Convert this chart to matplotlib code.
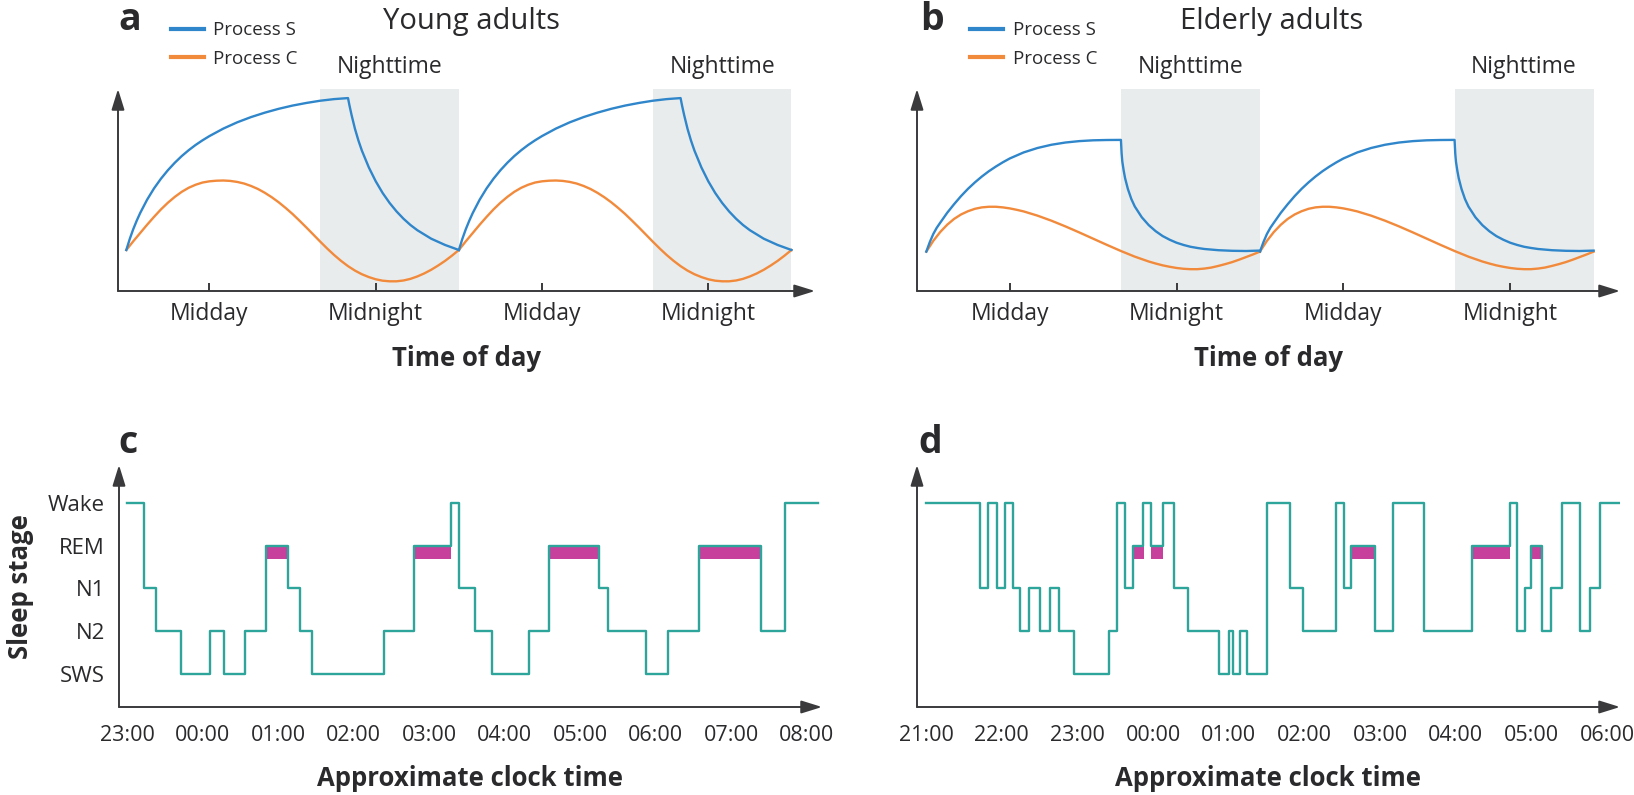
import matplotlib
matplotlib.use("Agg")
import matplotlib.pyplot as plt
import numpy as np

plt.rcParams['font.family'] = ['Open Sans', 'DejaVu Sans']

# ---------------- data ----------------
# Two-process model: hours of day (6 = 06:00 on day 1); values on a 0-100 scale.
# The picture shows two identical days; day_offsets places the second copy.
day_offsets = [0, 24]
nights = [(20, 30), (44, 54)]

young_S_t = [6, 6.25, 6.5, 6.75, 7, 7.5, 8, 8.5, 9, 9.5, 10, 10.5, 11, 11.5, 12, 13, 14, 15, 16, 17, 18, 19, 20, 21, 22,
             22.1, 22.25, 22.5, 22.75, 23, 23.5, 24, 24.5, 25, 25.5, 26, 26.5, 27, 28, 29, 30]
young_S_v = [20.3, 25.8, 30.6, 34.8, 38.6, 45.2, 50.8, 55.6, 59.8, 63.5, 66.8, 69.7, 72.3, 74.6, 76.7, 80.4, 83.5, 86.1,
             88.3, 90.2, 91.8, 93.1, 94.2, 95.0, 95.5,
             92.0, 87.3, 80.3, 74.5, 69.5, 61.2, 54.3, 48.5, 43.6, 39.4, 35.8, 32.7, 30.1, 25.9, 22.8, 20.3]

young_C_t = [6, 6.5, 7, 7.5, 8, 8.5, 9, 9.5, 10, 10.5, 11, 11.5, 12, 12.5, 13, 13.5, 14, 14.5, 15, 15.5, 16, 16.5,
             17, 17.5, 18, 18.5, 19, 19.5, 20, 20.5, 21, 21.5, 22, 22.5, 23, 23.5, 24, 24.5, 25, 25.5, 26, 26.5,
             27, 27.5, 28, 28.5, 29, 29.5, 30]
young_C_v = [20.3, 24.6, 28.7, 32.8, 36.7, 40.4, 43.7, 46.6, 49.1, 51.1, 52.6, 53.7, 54.3, 54.6, 54.7, 54.5, 54.0, 53.2,
             52.0, 50.5, 48.6, 46.4, 43.9, 41.1, 38.1, 34.8, 31.4, 27.9, 24.4, 21.0, 17.8, 14.9, 12.3, 10.1, 8.3, 6.9,
             5.8, 5.1, 4.8, 4.8, 5.2, 6.0, 7.2, 8.7, 10.5, 12.6, 14.9, 17.5, 20.3]

old_S_t = [6, 6.25, 6.5, 6.75, 7, 7.5, 8, 8.5, 9, 9.5, 10, 10.5, 11, 11.5, 12, 13, 14, 15, 16, 17, 18, 19, 20,
           20.05, 20.1, 20.2, 20.3, 20.5, 20.75, 21, 21.5, 22, 22.5, 23, 23.5, 24, 24.5, 25, 25.5, 26, 27, 28, 29, 30]
old_S_v = [19.5, 24.2, 28.2, 31.3, 33.8, 38.7, 43.0, 47.0, 50.6, 53.8, 56.7, 59.3, 61.6, 63.7, 65.6, 68.6, 70.8, 72.4,
           73.5, 74.2, 74.6, 74.75, 74.8,
           68.0, 64.0, 59.5, 55.8, 50.5, 45.5, 41.8, 36.5, 32.6, 29.6, 27.2, 25.4, 23.9, 22.8, 21.9, 21.3, 20.8, 20.2,
           19.9, 19.8, 20.0]

old_C_t = [6, 6.5, 7, 7.5, 8, 8.5, 9, 9.5, 10, 10.5, 11, 11.5, 12, 12.5, 13, 14, 15, 16, 17, 18, 19, 20, 21, 22,
           22.5, 23, 23.5, 24, 24.5, 25, 25.5, 26, 26.5, 27, 27.5, 28, 28.5, 29, 29.5, 30]
old_C_v = [19.5, 24.8, 29.2, 32.8, 35.7, 37.9, 39.5, 40.7, 41.4, 41.7, 41.7, 41.4, 40.9, 40.2, 39.4, 37.3, 34.8, 32.0,
           29.0, 25.9, 22.8, 19.8, 17.0, 14.6, 13.6, 12.7, 12.0, 11.4, 11.0, 10.8, 10.8, 11.1, 11.6, 12.4, 13.3, 14.3,
           15.5, 16.8, 18.1, 19.5]

rhythm_ticks = [12, 24, 36, 48]
rhythm_labels = ['Midday', 'Midnight', 'Midday', 'Midnight']

# Hypnograms
stage_names = ['SWS', 'N2', 'N1', 'REM', 'Wake']
stage_level = {s: i for i, s in enumerate(stage_names)}

# panel c: hours after 23:00
c_times = [0.00, 0.225, 0.39, 0.71, 1.10, 1.28, 1.565, 1.845, 2.13, 2.29, 2.455, 3.40, 3.80, 4.29,
           4.40, 4.61, 4.835, 5.33, 5.59, 6.245, 6.365, 6.88, 7.17, 7.57, 8.40, 8.715, 9.15]
c_stages = ['Wake', 'N1', 'N2', 'SWS', 'N2', 'SWS', 'N2', 'REM', 'N1', 'N2', 'SWS', 'N2', 'REM', 'Wake',
            'N1', 'N2', 'SWS', 'N2', 'REM', 'N1', 'N2', 'SWS', 'N2', 'REM', 'N2', 'Wake', 'Wake']
c_rem = [(1.845, 2.13), (3.80, 4.29), (5.59, 6.245), (7.57, 8.40)]
c_ticklabels = ['23:00', '00:00', '01:00', '02:00', '03:00', '04:00', '05:00', '06:00', '07:00', '08:00']

# panel d: hours after 21:00
d_times = [0.00, 0.714, 0.819, 0.937, 1.049, 1.155, 1.248, 1.366, 1.508, 1.633, 1.757, 1.955, 2.415, 2.52,
           2.63, 2.73, 2.86, 2.97, 3.13, 3.28, 3.465, 3.865, 4.00, 4.05, 4.15, 4.24, 4.51, 4.81, 4.975,
           5.42, 5.52, 5.62, 5.935, 6.165, 6.58, 7.21, 7.715, 7.81, 7.91, 7.99, 8.135, 8.26, 8.405,
           8.645, 8.775, 8.90, 9.17]
d_stages = ['Wake', 'N1', 'Wake', 'N1', 'Wake', 'N1', 'N2', 'N1', 'N2', 'N1', 'N2', 'SWS', 'N2', 'Wake',
            'N1', 'REM', 'Wake', 'REM', 'Wake', 'N1', 'N2', 'SWS', 'N2', 'SWS', 'N2', 'SWS', 'Wake', 'N1', 'N2',
            'Wake', 'N1', 'REM', 'N2', 'Wake', 'N2', 'REM', 'Wake', 'N2', 'N1', 'REM', 'N2', 'N1', 'Wake',
            'N2', 'N1', 'Wake', 'Wake']
d_rem = [(2.74, 2.88), (2.97, 3.13), (5.63, 5.935), (7.22, 7.715), (8.01, 8.135)]
d_ticklabels = ['21:00', '22:00', '23:00', '00:00', '01:00', '02:00', '03:00', '04:00', '05:00', '06:00']

# ---------------- style ----------------
TXT = '#2a2a2d'
AXC = '#3a3a3d'
BLUE = '#2f86ca'
ORANGE = '#f28a3c'
SHADE = '#e9ecec'
TEAL = '#2ea59a'
PINK = '#c6409c'

W, H = 1634, 795
fig = plt.figure(figsize=(W / 100, H / 100), dpi=100)


def box(l, r, t, b):
    return [l / W, 1 - b / H, (r - l) / W, (b - t) / H]


def arrows(ax):
    for s in ax.spines.values():
        s.set_visible(False)
    kw = dict(arrowstyle='-|>,head_width=0.28,head_length=0.9', lw=1.4, color=AXC,
              shrinkA=0, shrinkB=0, mutation_scale=14)
    ax.annotate('', xy=(1, 0), xytext=(0, 0), xycoords='axes fraction', arrowprops=kw,
                annotation_clip=False)
    ax.annotate('', xy=(0, 1), xytext=(0, 0), xycoords='axes fraction', arrowprops=kw,
                annotation_clip=False)


ax_a = fig.add_axes(box(118, 815, 89, 291))
ax_b = fig.add_axes(box(917, 1620, 89, 291))
ax_c = fig.add_axes(box(119, 822, 465, 707))
ax_d = fig.add_axes(box(917, 1620, 465, 707))

# ---------------- panels a / b ----------------
for ax, St, Sv, Ct, Cv, xl in [(ax_a, young_S_t, young_S_v, young_C_t, young_C_v, (5.4, 55.7)),
                               (ax_b, old_S_t, old_S_v, old_C_t, old_C_v, (5.33, 55.9))]:
    for n0, n1 in nights:
        ax.axvspan(n0, n1, ymin=0, ymax=1, color=SHADE, lw=0, zorder=0)
        ax.text((n0 + n1) / 2, 1.11, 'Nighttime', transform=ax.get_xaxis_transform(),
                ha='center', va='center', fontsize=16.5, color=TXT)
    for k, off in enumerate(day_offsets):
        ax.plot(np.array(Ct) + off, Cv, color=ORANGE, lw=1.7, zorder=3,
                label='Process C' if k == 0 else None, solid_joinstyle='round')
        ax.plot(np.array(St) + off, Sv, color=BLUE, lw=1.7, zorder=4,
                label='Process S' if k == 0 else None, solid_joinstyle='round')
    ax.set_xlim(*xl)
    ax.set_ylim(0, 100)
    ax.set_xticks(rhythm_ticks)
    ax.set_xticklabels(rhythm_labels)
    ax.set_yticks([])
    ax.tick_params(axis='x', direction='in', length=6, width=1.4, color=AXC, pad=8,
                   labelsize=16.5, labelcolor=TXT)
    arrows(ax)
    h, l = ax.get_legend_handles_labels()
    order = [1, 0]
    ax.legend([h[i] for i in order], [l[i] for i in order], loc='upper left',
              bbox_to_anchor=(0.076, 1.335), frameon=False, fontsize=13.5,
              handlelength=1.75, handletextpad=0.5, labelspacing=0.55,
              borderpad=0, borderaxespad=0, labelcolor=TXT)
    for line in ax.get_legend().get_lines():
        line.set_linewidth(3)

# ---------------- panels c / d ----------------
for ax, ts, ss, rem, labels, xl in [(ax_c, c_times, c_stages, c_rem, c_ticklabels, (-0.106, 9.205)),
                                    (ax_d, d_times, d_stages, d_rem, d_ticklabels, (-0.119, 9.168))]:
    lv = [stage_level[s] for s in ss]
    rem_lv = stage_level['REM']
    ax.broken_barh([(s, e - s) for s, e in rem], (rem_lv - 0.31, 0.31),
                   facecolor=PINK, edgecolor='none', zorder=2)
    ax.step(ts, lv, where='post', color=TEAL, lw=1.7, zorder=3)
    ax.set_xlim(*xl)
    ax.set_ylim(-0.77, 4.88)
    ax.set_xticks(range(len(labels)))
    ax.set_xticklabels(labels)
    ax.tick_params(axis='x', length=0, pad=13, labelsize=15.5, labelcolor=TXT)
    if ax is ax_c:
        ax.set_yticks(range(len(stage_names)))
        ax.set_yticklabels(stage_names)
        ax.tick_params(axis='y', length=0, pad=10, labelsize=16, labelcolor=TXT)
    else:
        ax.set_yticks([])
    arrows(ax)

# ---------------- text ----------------
def ftext(x, y, s, **kw):
    fig.text(x / W, 1 - y / H, s, color=TXT, **kw)

ftext(130, 20, 'a', fontsize=27, fontweight='bold', ha='center', va='center')
ftext(932, 20, 'b', fontsize=27, fontweight='bold', ha='center', va='center')
ftext(128, 443, 'c', fontsize=27, fontweight='bold', ha='center', va='center')
ftext(930, 443, 'd', fontsize=27, fontweight='bold', ha='center', va='center')

ftext(471, 22, 'Young adults', fontsize=21, ha='center', va='center')
ftext(1272, 22, 'Elderly adults', fontsize=21, ha='center', va='center')

ftext(466, 358, 'Time of day', fontsize=18.5, fontweight='bold', ha='center', va='center')
ftext(1268, 358, 'Time of day', fontsize=18.5, fontweight='bold', ha='center', va='center')
ftext(470, 779, 'Approximate clock time', fontsize=18.5, fontweight='bold', ha='center', va='center')
ftext(1268, 779, 'Approximate clock time', fontsize=18.5, fontweight='bold', ha='center', va='center')
ftext(20, 587, 'Sleep stage', fontsize=18.5, fontweight='bold', ha='center', va='center', rotation=90)

fig.savefig('out.png', dpi=100)
